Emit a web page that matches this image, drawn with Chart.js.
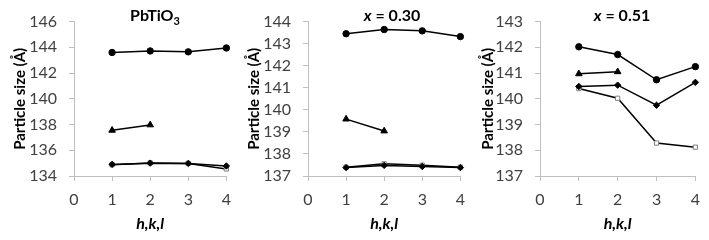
<!DOCTYPE html>
<html>
<head>
<meta charset="utf-8">
<script src="https://cdn.jsdelivr.net/npm/chart.js@4.4.1/dist/chart.umd.min.js"></script>
<style>
  body { margin: 0; background: #fff; width: 709px; height: 240px; overflow: hidden; position: relative; }
  .panel { position: absolute; top: 0; height: 240px; }
  .ttl { position: absolute; top: 5px; transform: translateX(-50%); font: bold 16px Lato, sans-serif; color: #000; white-space: nowrap; }
  .ttl sub { font-size: 11px; }
</style>
</head>
<body>

<div class="panel" style="left:0px;width:240px"><canvas id="c1" width="240" height="240"></canvas></div>
<div class="panel" style="left:234px;width:240px"><canvas id="c2" width="240" height="240"></canvas></div>
<div class="panel" style="left:468px;width:241px"><canvas id="c3" width="241" height="240"></canvas></div>

<div class="ttl" style="left:155px">PbTiO<sub>3</sub></div>
<div class="ttl" style="left:392px"><i>x</i> = 0.30</div>
<div class="ttl" style="left:622px"><i>x</i> = 0.51</div>

<script>
// ---------------- DATA ----------------
const hkl = [1, 2, 3, 4];
const xTicks = [0, 1, 2, 3, 4];

// PbTiO3
const pbCircle   = [143.6, 143.72, 143.65, 143.95];
const pbTriangle = [137.55, 137.97, null, null];
const pbDiamond  = [134.9, 135.0, 134.98, 134.78];
const pbSquare   = [134.88, 135.02, 134.98, 134.55];

// x = 0.30
const x30Circle   = [143.45, 143.64, 143.58, 143.32];
const x30Triangle = [139.58, 139.04, null, null];
const x30Diamond  = [137.38, 137.48, 137.43, 137.38];
const x30Square   = [137.4, 137.55, 137.49, 137.4];

// x = 0.51
const x51Circle   = [142.02, 141.72, 140.74, 141.25];
const x51Triangle = [140.97, 141.05, null, null];
const x51Diamond  = [140.48, 140.53, 139.75, 140.64];
const x51Square   = [140.4, 140.02, 138.28, 138.12];

// ---------------- HELPERS ----------------
const FONT = "Lato, 'Open Sans', sans-serif";

function pts(values) {
  return hkl.map((h, i) => ({ x: h, y: values[i] }));
}

function series(values, style) {
  let ds = {
    data: pts(values),
    borderColor: "#000",
    borderWidth: 1.5,
    pointStyle: style,
    pointRadius: 3.2,
    pointBackgroundColor: "#000",
    pointBorderColor: "#000",
    pointBorderWidth: 1,
    spanGaps: false,
    clip: false
  };
  if (style === "rect") {
    ds.pointRadius = 3;
    ds.pointBackgroundColor = "#fff";
    ds.pointBorderColor = "#7f7f7f";
  }
  if (style === "triangle") ds.pointRadius = 3.8;
  return ds;
}

function makeChart(id, circle, triangle, diamond, square, yMin, yMax, yStep, axisX, plotRight, canvasW) {
  const ctx = document.getElementById(id).getContext("2d");
  return new Chart(ctx, {
    type: "line",
    data: {
      datasets: [
        series(circle, "circle"),
        series(triangle, "triangle"),
        series(diamond, "rectRot"),
        series(square, "rect")
      ]
    },
    options: {
      responsive: false,
      animation: false,
      devicePixelRatio: 1,
      layout: { padding: { left: 0, right: canvasW - plotRight, top: 15, bottom: 0 } },
      plugins: { legend: { display: false }, tooltip: { enabled: false } },
      scales: {
        x: {
          type: "linear",
          min: 0,
          max: 4,
          afterBuildTicks: (scale) => { scale.ticks = xTicks.map(v => ({ value: v })); },
          ticks: { color: "#404040", font: { family: FONT, size: 16 }, padding: 9, maxRotation: 0, autoSkip: false },
          grid: { drawOnChartArea: false, drawTicks: true, tickLength: 5, color: "#bfbfbf" },
          border: { color: "#bfbfbf" },
          title: {
            display: true,
            text: "h,k,l",
            color: "#000",
            font: { family: FONT, size: 16, weight: "bold", style: "italic" },
            padding: { top: 0, bottom: 7 }
          },
          afterFit: (scale) => { scale.height = 64; }
        },
        y: {
          min: yMin,
          max: yMax,
          ticks: { stepSize: yStep, color: "#404040", font: { family: FONT, size: 16 }, padding: 12, autoSkip: false },
          grid: { drawOnChartArea: false, drawTicks: true, tickLength: 5, color: "#bfbfbf" },
          border: { color: "#bfbfbf" },
          title: {
            display: true,
            text: "Particle size (Å)",
            color: "#000",
            font: { family: FONT, size: 15, weight: "bold" },
            padding: { top: 11, bottom: 0 }
          },
          afterFit: (scale) => { scale.width = axisX; }
        }
      }
    }
  });
}

// ---------------- CHARTS ----------------
makeChart("c1", pbCircle, pbTriangle, pbDiamond, pbSquare, 134, 146, 2, 74, 232, 240);
makeChart("c2", x30Circle, x30Triangle, x30Diamond, x30Square, 137, 144, 1, 74, 233, 240);
makeChart("c3", x51Circle, x51Triangle, x51Diamond, x51Square, 137, 143, 1, 72, 230, 241);
</script>
</body>
</html>
